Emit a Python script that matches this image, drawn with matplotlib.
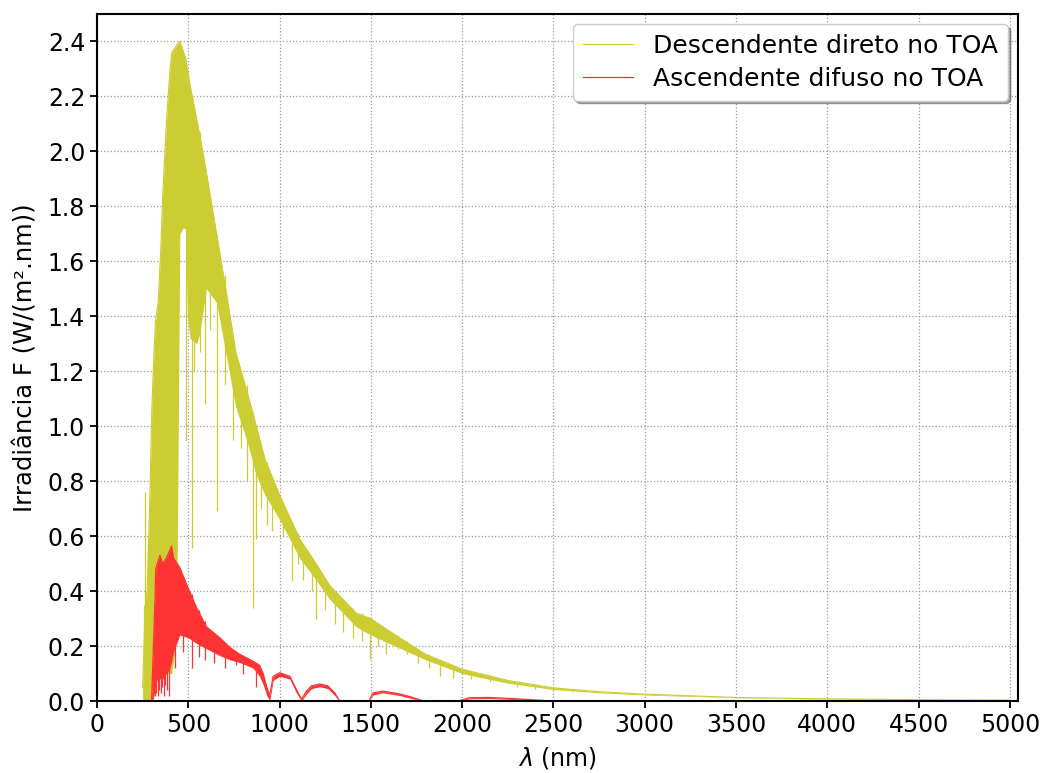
import matplotlib.pyplot as plt

# downward direct irradiance at TOA: upper / lower edge of the dense band
direct_wl = [250, 262, 275, 290, 300, 308, 320, 335, 350, 360, 380, 400, 410, 430, 440,
             454, 470, 485, 495, 510, 545, 560, 600, 655, 710, 760, 820, 873, 920, 1000,
             1110, 1200, 1275, 1420, 1500, 1600, 1800, 2000, 2250, 2500, 2750, 3000, 3500,
             4000, 4500, 5000]
direct_top = [0.05, 0.30, 0.40, 0.75, 1.05, 1.20, 1.38, 1.45, 1.65, 1.84, 2.10, 2.30, 2.36,
              2.38, 2.39, 2.40, 2.37, 2.34, 2.30, 2.24, 2.12, 2.07, 1.92, 1.70, 1.48, 1.27,
              1.13, 1.00, 0.88, 0.75, 0.59, 0.50, 0.42, 0.32, 0.30, 0.255, 0.17, 0.116,
              0.075, 0.048, 0.034, 0.025, 0.013, 0.008, 0.005, 0.003]
direct_bottom = [0.0, 0.0, 0.0, 0.0, 0.0, 0.0, 0.05, 0.10, 0.10, 0.10, 0.10, 0.10, 0.10,
                 0.20, 0.55, 1.70, 1.72, 1.72, 1.40, 1.32, 1.30, 1.33, 1.50, 1.45, 1.25,
                 1.07, 0.95, 0.82, 0.75, 0.66, 0.52, 0.44, 0.37, 0.27, 0.24, 0.21, 0.15,
                 0.10, 0.065, 0.042, 0.030, 0.022, 0.012, 0.007, 0.0045, 0.0027]

# absorption lines / isolated spikes of the direct spectrum
direct_spike_wl = [255, 262, 268, 280, 490, 518, 530, 563, 591, 620, 655, 700, 745, 790,
                   819, 855, 873, 900, 930, 960, 1020, 1067, 1100, 1130, 1180, 1202, 1250,
                   1304, 1350, 1400, 1450, 1493, 1540, 1585, 1650, 1700, 1760, 1820, 1876,
                   1950, 2050, 2150, 2300, 2400, 2500, 2600]
direct_spike_low = [0.0, 0.0, 0.0, 0.0, 0.945, 0.557, 1.20, 1.27, 1.08, 1.35, 0.69, 1.15,
                    0.95, 0.92, 0.80, 0.34, 0.59, 0.70, 0.64, 0.62, 0.60, 0.436, 0.50,
                    0.44, 0.40, 0.30, 0.33, 0.28, 0.25, 0.23, 0.22, 0.153, 0.20, 0.17,
                    0.19, 0.17, 0.14, 0.12, 0.09, 0.085, 0.08, 0.07, 0.05, 0.045, 0.036,
                    0.032]
direct_spike_high = [0.35, 0.76, 0.40, 0.60, 2.30, 2.20, 2.16, 2.07, 1.95, 1.83, 1.70,
                     1.55, 1.30, 1.20, 1.15, 1.05, 1.00, 0.93, 0.87, 0.82, 0.72, 0.65,
                     0.61, 0.57, 0.52, 0.45, 0.43, 0.40, 0.37, 0.34, 0.32, 0.30, 0.28,
                     0.26, 0.24, 0.22, 0.19, 0.17, 0.14, 0.125, 0.11, 0.095, 0.07, 0.06,
                     0.05, 0.04]

# upward diffuse irradiance at TOA
diffuse_wl = [299, 305, 317, 322, 330, 345, 360, 380, 400, 408, 420, 454, 500, 545, 600,
              673, 728, 782, 855, 890, 910, 930, 946, 965, 1001, 1056, 1092, 1120, 1147,
              1174, 1220, 1265, 1302, 1329, 1490, 1512, 1566, 1658, 1730, 1786, 1980, 2040,
              2150, 2300, 2450]
diffuse_top = [0.0, 0.12, 0.35, 0.48, 0.50, 0.53, 0.50, 0.52, 0.55, 0.564, 0.52, 0.485,
               0.41, 0.34, 0.27, 0.23, 0.195, 0.17, 0.145, 0.13, 0.10, 0.05, 0.02, 0.09,
               0.103, 0.09, 0.042, 0.006, 0.036, 0.055, 0.062, 0.055, 0.03, 0.0, 0.0, 0.03,
               0.036, 0.026, 0.013, 0.0, 0.0, 0.012, 0.013, 0.008, 0.002]
diffuse_bottom = [0.0, 0.0, 0.04, 0.06, 0.08, 0.08, 0.08, 0.10, 0.12, 0.14, 0.18, 0.24,
                  0.23, 0.21, 0.19, 0.165, 0.15, 0.14, 0.12, 0.09, 0.06, 0.02, 0.0,
                  0.075, 0.09, 0.08, 0.03, 0.0, 0.025, 0.045, 0.052, 0.045, 0.02, 0.0, 0.0,
                  0.022, 0.03, 0.02, 0.008, 0.0, 0.0, 0.008, 0.009, 0.005, 0.0]

diffuse_spike_wl = [318, 326, 334, 342, 350, 358, 366, 374, 384, 392, 430, 470, 518, 560,
                    590, 640, 700, 760, 800, 870]
diffuse_spike_low = [0.02, 0.03, 0.02, 0.04, 0.03, 0.05, 0.02, 0.06, 0.04, 0.02, 0.12,
                     0.18, 0.12, 0.16, 0.15, 0.14, 0.12, 0.13, 0.10, 0.05]
diffuse_spike_high = [0.35, 0.45, 0.48, 0.48, 0.50, 0.50, 0.50, 0.50, 0.50, 0.50, 0.50,
                      0.45, 0.39, 0.33, 0.29, 0.24, 0.21, 0.18, 0.165, 0.14]

yellow = '#cccc33'
red = '#ff3333'


def main():
    fig = plt.figure(figsize=(10.46, 7.73), dpi=100)
    ax = fig.add_axes([0.0927, 0.0931, 0.8805, 0.8888])
    ax.grid(True, linestyle=':', color='#999999', linewidth=0.9)
    ax.set_axisbelow(True)

    ax.fill_between(direct_wl, direct_bottom, direct_top, color=yellow, linewidth=0)
    ax.plot(direct_wl, direct_top, color=yellow, linewidth=0.8,
            label='Descendente direto no TOA')
    ax.vlines(direct_spike_wl, direct_spike_low, direct_spike_high, color=yellow,
              linewidth=0.9)

    ax.fill_between(diffuse_wl, diffuse_bottom, diffuse_top, color=red, linewidth=0)
    ax.plot(diffuse_wl, diffuse_top, color=red, linewidth=0.9,
            label='Ascendente difuso no TOA')
    ax.vlines(diffuse_spike_wl, diffuse_spike_low, diffuse_spike_high, color=red,
              linewidth=0.9)

    ax.set_xlim(0, 5044)
    ax.set_ylim(0, 2.5)
    ax.set_xticks(range(0, 5001, 500))
    ax.set_yticks([i * 0.2 for i in range(13)])
    ax.yaxis.set_major_formatter(plt.FormatStrFormatter('%.1f'))
    ax.tick_params(labelsize=17, length=5, width=1.3)
    for sp in ax.spines.values():
        sp.set_linewidth(1.5)

    ax.set_xlabel(r'$\lambda$ (nm)', fontsize=17, labelpad=6)
    ax.set_ylabel('Irradiância F (W/(m².nm))', fontsize=17.5, labelpad=7)
    ax.legend(loc='upper right', fontsize=18, shadow=True, framealpha=1,
              labelspacing=0.35, borderaxespad=0.4)

    fig.savefig('out.png', dpi=100)


if __name__ == '__main__':
    main()
